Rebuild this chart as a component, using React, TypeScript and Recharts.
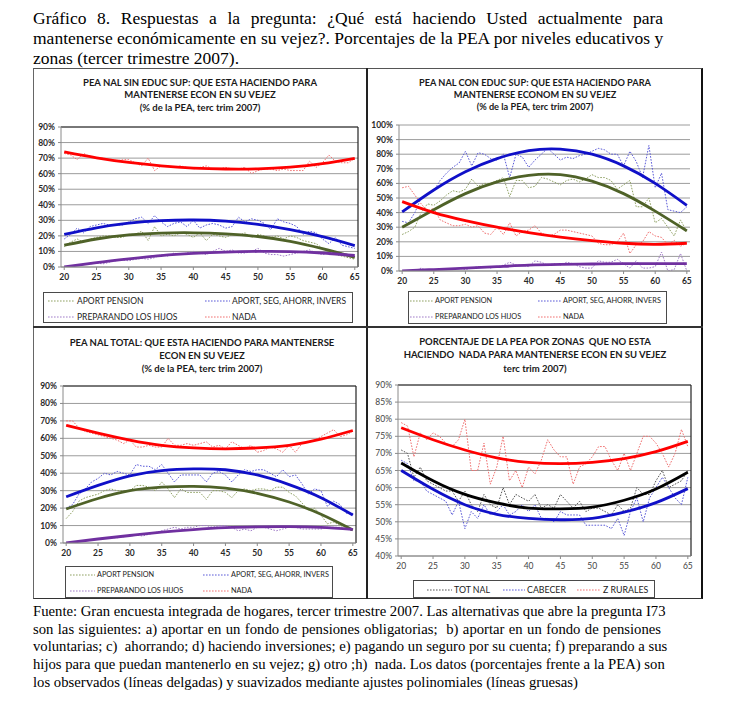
import React from 'react';
import { LineChart, Line, XAxis, YAxis, CartesianGrid, ReferenceLine } from 'recharts';

// ---------- data ----------
const AGES = [20, 21, 22, 23, 24, 25, 26, 27, 28, 29, 30, 31, 32, 33, 34, 35, 36, 37, 38, 39, 40, 41, 42, 43, 44, 45, 46, 47, 48, 49, 50, 51, 52, 53, 54, 55, 56, 57, 58, 59, 60, 61, 62, 63, 64, 65];
const FIT_AGES = [20, 25, 30, 35, 40, 45, 50, 55, 60, 65];
const X_TICKS = [20, 25, 30, 35, 40, 45, 50, 55, 60, 65];
const Y_TICKS_90 = [0, 10, 20, 30, 40, 50, 60, 70, 80, 90];
const Y_TICKS_100 = [0, 10, 20, 30, 40, 50, 60, 70, 80, 90, 100];
const Y_TICKS_ZONAS = [40, 45, 50, 55, 60, 65, 70, 75, 80, 85, 90];

// Panel 1: PEA NAL SIN EDUC SUP (observed)
const p1Pension = [13, 16, 18, 16, 18, 19, 20, 20, 19, 19, 21, 21, 23, 17, 26, 20, 21, 20, 22, 21, 19, 22, 17, 21, 20, 19, 21, 20, 22, 19, 21, 20, 19, 20, 18, 20, 19, 17, 16, 15, 12, 10, 8, 7, 6, 5];
const p1Seg = [18, 21, 25, 22, 26, 27, 28, 27, 27, 27, 29, 31, 32, 28, 33, 29, 26, 28, 29, 26, 30, 25, 27, 28, 27, 25, 26, 32, 29, 31, 30, 28, 24, 31, 29, 28, 26, 21, 23, 22, 18, 15, 19, 14, 13, 12];
const p1Hijos = [0, 0.5, 1, 1.5, 2, 2.5, 2, 3, 4, 4.5, 4, 5, 5.5, 5, 6, 8, 7, 9, 8, 9, 10, 9, 8, 10, 12, 10, 11, 9, 9, 10, 12, 9, 8, 8, 7, 8, 9, 10, 11, 9, 8, 9, 10, 9, 8, 6];
const p1Nada = [73, 72, 69, 73, 71, 70, 70, 69, 68, 69, 69, 67, 65, 70, 62, 65, 65, 64, 65, 64, 63, 64, 65, 63, 63, 64, 63, 63, 64, 60, 62, 63, 63, 62, 63, 62, 62, 62, 68, 64, 67, 72, 68, 67, 67, 70];
// Panel 1 (polynomial fits)
const p1FitPension = [14, 18, 20.6, 21.8, 22, 21.3, 19.6, 16.5, 11.8, 6.2];
const p1FitSeg = [21, 25.2, 28.2, 29.8, 30.2, 29.5, 27.4, 24, 19.5, 13.8];
const p1FitHijos = [0, 2.8, 5.2, 7.3, 8.7, 9.6, 10, 9.9, 9, 7.4];
const p1FitNada = [74, 70.2, 67.2, 65, 63.6, 63, 63.1, 64.2, 66.4, 69.8];

// Panel 2: PEA NAL CON EDUC SUP (observed)
const p2Pension = [25, 27, 30, 40, 46, 45, 48, 52, 55, 54, 56, 63, 58, 60, 60, 62, 64, 51, 62, 62, 57, 58, 64, 63, 61, 59, 62, 63, 61, 63, 66, 64, 64, 62, 56, 59, 62, 44, 44, 50, 33, 36, 30, 24, 35, 27];
const p2Seg = [34, 33, 40, 50, 52, 55, 62, 67, 71, 74, 82, 72, 81, 80, 77, 76, 80, 64, 80, 78, 71, 76, 80, 84, 80, 76, 78, 77, 79, 80, 82, 84, 83, 80, 80, 72, 82, 75, 64, 86, 57, 67, 42, 41, 40, 44];
const p2Hijos = [0, 0, 0, 2, 0, 1, 1, 1, 1, 2, 1, 2, 3, 3, 2, 3, 4, 6, 4, 4, 3, 7, 6, 4, 5, 4, 6, 5, 3, 2, 2, 7, 6, 6, 8, 5, 2, 7, 2, 2, 3, 13, 0, 1, 12, 0];
const p2Nada = [57, 58, 52, 46, 41, 43, 35, 33, 31, 31, 32, 30, 31, 26, 25, 30, 25, 33, 24, 27, 28, 31, 26, 24, 25, 28, 28, 27, 26, 25, 24, 19, 18, 18, 20, 26, 12, 18, 20, 27, 24, 23, 18, 21, 17, 19];
const p2FitPension = [30, 42, 53, 61, 65.5, 66, 61.5, 53, 41, 27.5];
const p2FitSeg = [40.5, 55.5, 68, 77, 82.5, 83.5, 80, 72, 60, 45];
const p2FitHijos = [0, 1, 2, 3, 4, 4.5, 4.8, 5, 5, 5];
const p2FitNada = [47.5, 40, 34.5, 30, 26.3, 23.2, 20.8, 19, 18.3, 19];

// Panel 3: PEA NAL TOTAL (observed)
const p3Pension = [14, 18, 24, 26, 27, 28, 30, 31, 30, 30, 30, 33, 33, 32, 30, 35, 31, 26, 31, 29, 29, 29, 25, 30, 30, 29, 26, 30, 31, 30, 31, 31, 30, 32, 32, 29, 27, 23, 19, 20, 16, 11, 12, 10, 9, 8];
const p3Seg = [20, 22, 28, 31, 35, 37, 40, 39, 41, 40, 39, 45, 44, 44, 42, 45, 40, 35, 39, 39, 39, 39, 35, 40, 41, 39, 35, 39, 42, 41, 42, 42, 40, 38, 42, 38, 39, 34, 28, 31, 30, 21, 24, 22, 17, 17];
const p3Hijos = [0, 0.5, 1, 1.5, 2, 2, 2.5, 3, 3, 3.5, 4, 4.5, 4, 5, 6, 7, 8, 9, 8, 9, 9, 10, 10, 9, 10, 10, 9, 7, 8, 7, 9, 9, 8, 7, 8, 9, 9, 8, 8, 8, 8, 9, 9, 9, 8, 7];
const p3Nada = [70, 70, 66, 64, 63, 62, 61, 60, 59, 57, 59, 55, 55, 56, 55, 55, 60, 56, 56, 57, 56, 57, 58, 55, 56, 54, 58, 56, 54, 56, 52, 53, 55, 54, 52, 56, 52, 57, 58, 59, 61, 63, 65, 61, 62, 64];
const p3FitPension = [19.5, 25.5, 30, 32, 32.5, 31.5, 28.5, 23.5, 16.5, 7.5];
const p3FitSeg = [26.5, 33, 38.5, 41.5, 42.5, 42, 39, 33.5, 26, 16];
const p3FitHijos = [0, 2.3, 4.3, 6.2, 7.7, 8.8, 9.3, 9.4, 9, 7.8];
const p3FitNada = [67.5, 63, 59, 56, 54.5, 54, 54.5, 56, 59.5, 64.5];

// Panel 4: por zonas, NADA (observed)
const p4Tot = [71, 70, 63, 66, 62, 61, 60, 59, 59, 56, 59, 55, 53, 58, 55, 54, 60, 55, 58, 57, 56, 58, 54, 55, 54, 58, 56, 54, 56, 53, 54, 54, 53, 52, 55, 53, 54, 60, 58, 58, 62, 65, 60, 61, 62, 65];
const p4Cab = [68, 67, 62, 62, 59, 58, 57, 56, 52, 56, 48, 53, 51, 55, 52, 53, 55, 52, 53, 55, 53, 55, 51, 51, 50, 53, 52, 52, 52, 49, 49, 49, 49, 48, 51, 46, 53, 57, 50, 57, 60, 63, 60, 57, 55, 63];
const p4Rural = [79, 78, 69, 76, 74, 76, 75, 73, 72, 74, 80, 65, 65, 73, 61, 66, 75, 62, 65, 60, 66, 64, 68, 74, 71, 69, 69, 61, 66, 67, 69, 72, 72, 68, 65, 70, 65, 70, 75, 75, 73, 70, 66, 70, 77, 72];
const p4FitTot = [67.2, 62, 58, 55.5, 54, 53.8, 54.3, 56.3, 59.6, 64.5];
const p4FitCab = [65, 59.5, 55, 52.2, 51, 50.6, 51, 52.8, 55.6, 59.7];
const p4FitRural = [77.5, 74, 71, 68.7, 67.4, 67, 67.4, 68.5, 70.5, 73.5];

const LEG_PENSION = 'APORT PENSION';
const LEG_SEG = 'APORT, SEG, AHORR, INVERS';
const LEG_HIJOS = 'PREPARANDO LOS HIJOS';
const LEG_NADA = 'NADA';

// ---------- styles ----------
const SANS = "Lato, 'Noto Sans', sans-serif";
const SERIF = "'Liberation Serif', 'Times New Roman', serif";
const C = {
  olive: '#4F6228', oliveThin: '#8FA163',
  blue: '#1010C8', blueThin: '#5A5AD8',
  purple: '#7030A0', purpleThin: '#A07CC8',
  red: '#FF0000', redThin: '#F07070',
  black: '#000000', blackThin: '#555555',
};

const toObs = (vals: number[]) => AGES.map((a, i) => ({ age: a, v: vals[i] }));
const toFit = (vals: number[]) => FIT_AGES.map((a, i) => ({ age: a, v: vals[i] }));

type Series = { data: { age: number; v: number }[]; color: string; thick: boolean };
type Box = { x0: number; x1: number; y0: number; y1: number };

const PAD_L = 45, PAD_T = 8, PAD_R = 10, PAD_B = 25;

function Chart({ box, domain, ticks, series, border, boldTicks }: { box: Box; domain: [number, number]; ticks: number[]; series: Series[]; border: boolean; boldTicks: boolean }) {
  const W = box.x1 - box.x0 + PAD_L + PAD_R;
  const H = box.y1 - box.y0 + PAD_T + PAD_B;
  const tickStyle = { fontSize: 8.5, fill: boldTicks ? '#2a2a2a' : '#444', fontWeight: boldTicks ? 700 : 400, fontFamily: SANS };
  return (
    <div style={{ position: 'absolute', left: box.x0 - PAD_L, top: box.y0 - PAD_T }}>
      <LineChart width={W} height={H} margin={{ top: PAD_T, right: PAD_R, bottom: 0, left: 0 }}>
        <CartesianGrid horizontal vertical={false} stroke="#9c9c9c" strokeWidth={1} />
        <XAxis type="number" dataKey="age" domain={[19.5, 65.5]} ticks={X_TICKS} allowDataOverflow height={PAD_B}
          interval={0} tick={tickStyle} tickSize={3} tickMargin={4} stroke="#8a8a8a" />
        <YAxis type="number" domain={domain} ticks={ticks} allowDataOverflow width={PAD_L} interval={0}
          tickFormatter={(v: number) => `${v}%`} tick={tickStyle} tickSize={3} tickMargin={3} stroke="#8a8a8a" />
        {border && <ReferenceLine y={domain[1]} stroke="#222" strokeWidth={1.2} />}
        {border && <ReferenceLine x={65.5} stroke="#222" strokeWidth={1.2} />}
        {series.filter(s => !s.thick).map((s, i) => (
          <Line key={'t' + i} data={s.data} dataKey="v" type="linear" stroke={s.color} strokeWidth={1}
            strokeDasharray="1.6 1.4" dot={false} activeDot={false} isAnimationActive={false} />
        ))}
        {series.filter(s => s.thick).map((s, i) => (
          <Line key={'f' + i} data={s.data} dataKey="v" type="natural" stroke={s.color} strokeWidth={2.8}
            dot={false} activeDot={false} isAnimationActive={false} />
        ))}
      </LineChart>
    </div>
  );
}

function Title({ cx, top, lh, lines, size = 9.5 }: { cx: number; top: number; lh: number; lines: string[]; size?: number }) {
  return (
    <div style={{ position: 'absolute', left: cx - 170, top, width: 340, textAlign: 'center', fontFamily: SANS, fontWeight: 700, fontSize: size, lineHeight: `${lh}px`, color: '#1a1a1a', whiteSpace: 'pre' }}>
      {lines.map((l, i) => <div key={i}>{l}</div>)}
    </div>
  );
}

type LegItem = { x0: number; x1: number; tx: number; y: number; color: string; label: string };

function LegendBox({ left, top, width, height, items, size }: { left: number; top: number; width: number; height: number; items: LegItem[]; size: number }) {
  return (
    <div style={{ position: 'absolute', left, top, width, height, border: '1px solid #4a4a4a', boxSizing: 'border-box', overflow: 'hidden', background: '#fff' }}>
      {items.map((it, i) => (
        <React.Fragment key={i}>
          <svg style={{ position: 'absolute', left: it.x0 - left - 1, top: it.y - top - 3 }} width={it.x1 - it.x0} height={6}>
            <line x1={0} y1={3} x2={it.x1 - it.x0} y2={3} stroke={it.color} strokeWidth={1} strokeDasharray="1.6 1.4" />
          </svg>
          <div style={{ position: 'absolute', left: it.tx - left - 1, top: it.y - top - 7, lineHeight: '14px', fontSize: size, fontFamily: SANS, color: '#222', whiteSpace: 'nowrap' }}>{it.label}</div>
        </React.Fragment>
      ))}
    </div>
  );
}

const HEADER = [
  'Gráfico 8. Respuestas a la pregunta: ¿Qué está haciendo Usted actualmente para',
  'mantenerse económicamente en su vejez?. Porcentajes de la PEA por niveles educativos y',
  'zonas (tercer trimestre 2007).',
];
const FOOTER = [
  'Fuente: Gran encuesta integrada de hogares, tercer trimestre 2007. Las alternativas que abre la pregunta I73',
  'son las siguientes: a) aportar en un fondo de pensiones obligatorias;\u00a0 b) aportar en un fondo de pensiones',
  'voluntarias; c)\u00a0 ahorrando; d) haciendo inversiones; e) pagando un seguro por su cuenta; f) preparando a sus',
  'hijos para que puedan mantenerlo en su vejez; g) otro ;h)\u00a0 nada. Los datos (porcentajes frente a la PEA) son',
  'los observados (líneas delgadas) y suavizados mediante ajustes polinomiales (líneas gruesas)',
];

function Para({ lines, top, size, lh, width }: { lines: string[]; top: number; size: number; lh: number; width: number }) {
  return (
    <div style={{ position: 'absolute', left: 33, top, width, fontFamily: SERIF, fontSize: size, lineHeight: `${lh}px`, color: '#000' }}>
      {lines.map((l, i) => (
        <div key={i} style={{ textAlign: 'justify', textAlignLast: i === lines.length - 1 ? 'left' : 'justify', whiteSpace: 'nowrap' }}>{l}</div>
      ))}
    </div>
  );
}

function fourSeries(pen: number[], seg: number[], hij: number[], nad: number[], fpen: number[], fseg: number[], fhij: number[], fnad: number[]): Series[] {
  return [
    { data: toObs(pen), color: C.oliveThin, thick: false },
    { data: toObs(seg), color: C.blueThin, thick: false },
    { data: toObs(hij), color: C.purpleThin, thick: false },
    { data: toObs(nad), color: C.redThin, thick: false },
    { data: toFit(fpen), color: C.olive, thick: true },
    { data: toFit(fseg), color: C.blue, thick: true },
    { data: toFit(fhij), color: C.purple, thick: true },
    { data: toFit(fnad), color: C.red, thick: true },
  ];
}

export default function App() {
  const s1 = fourSeries(p1Pension, p1Seg, p1Hijos, p1Nada, p1FitPension, p1FitSeg, p1FitHijos, p1FitNada);
  const s2 = fourSeries(p2Pension, p2Seg, p2Hijos, p2Nada, p2FitPension, p2FitSeg, p2FitHijos, p2FitNada);
  const s3 = fourSeries(p3Pension, p3Seg, p3Hijos, p3Nada, p3FitPension, p3FitSeg, p3FitHijos, p3FitNada);
  const s4: Series[] = [
    { data: toObs(p4Tot), color: C.blackThin, thick: false },
    { data: toObs(p4Cab), color: C.blueThin, thick: false },
    { data: toObs(p4Rural), color: C.redThin, thick: false },
    { data: toFit(p4FitTot), color: C.black, thick: true },
    { data: toFit(p4FitCab), color: C.blue, thick: true },
    { data: toFit(p4FitRural), color: C.red, thick: true },
  ];

  return (
    <div style={{ position: 'absolute', left: 0, top: 0, width: 735, height: 704, background: '#fff', overflow: 'hidden' }}>
      <Para lines={HEADER} top={7.6} size={17.5} lh={20} width={630} />

      {/* frames */}
      <div style={{ position: 'absolute', left: 33, top: 68, width: 670, height: 531, borderLeft: '1px solid #666', borderTop: '1px solid #555', borderRight: '2px solid #111', borderBottom: '1px solid #333', boxSizing: 'border-box' }} />
      <div style={{ position: 'absolute', left: 366, top: 68, width: 2, height: 531, background: '#222' }} />
      <div style={{ position: 'absolute', left: 33, top: 326, width: 670, height: 2, background: '#333' }} />

      {/* Panel 1 */}
      <Title cx={200} top={76.5} lh={12.5} lines={['PEA NAL SIN EDUC SUP: QUE ESTA HACIENDO PARA', 'MANTENERSE ECON EN SU VEJEZ', '(% de la PEA, terc trim 2007)']} />
      <Chart box={{ x0: 61, x1: 358, y0: 127, y1: 267 }} domain={[0, 90]} ticks={Y_TICKS_90} series={s1} border boldTicks />
      <LegendBox left={43} top={292} width={310} height={31} size={8.5} items={[
        { x0: 48, x1: 75, tx: 77, y: 300, color: C.oliveThin, label: LEG_PENSION },
        { x0: 205, x1: 230, tx: 232, y: 300, color: C.blueThin, label: LEG_SEG },
        { x0: 48, x1: 75, tx: 77, y: 316, color: C.purpleThin, label: LEG_HIJOS },
        { x0: 205, x1: 230, tx: 232, y: 316, color: C.redThin, label: LEG_NADA },
      ]} />

      {/* Panel 2 */}
      <Title cx={535} top={77} lh={12} size={9.2} lines={['PEA NAL CON EDUC SUP: QUE ESTA HACIENDO PARA', 'MANTENERSE ECONOM EN SU VEJEZ', '(% de la PEA, terc trim 2007)']} />
      <Chart box={{ x0: 399, x1: 690, y0: 125, y1: 271 }} domain={[0, 100]} ticks={Y_TICKS_100} series={s2} border={false} boldTicks />
      <LegendBox left={408} top={291} width={259} height={33} size={7.3} items={[
        { x0: 410, x1: 433, tx: 435, y: 300, color: C.oliveThin, label: LEG_PENSION },
        { x0: 538, x1: 562, tx: 563, y: 300, color: C.blueThin, label: LEG_SEG },
        { x0: 410, x1: 433, tx: 435, y: 316, color: C.purpleThin, label: LEG_HIJOS },
        { x0: 538, x1: 562, tx: 563, y: 316, color: C.redThin, label: LEG_NADA },
      ]} />

      {/* Panel 3 */}
      <Title cx={202} top={335.5} lh={13} lines={['PEA NAL TOTAL: QUE ESTA HACIENDO PARA MANTENERSE', 'ECON EN SU VEJEZ', '(% de la PEA, terc trim 2007)']} />
      <Chart box={{ x0: 63, x1: 356, y0: 386, y1: 543 }} domain={[0, 90]} ticks={Y_TICKS_90} series={s3} border boldTicks />
      <LegendBox left={65} top={566} width={268} height={32} size={7.3} items={[
        { x0: 70, x1: 95, tx: 97, y: 574, color: C.oliveThin, label: LEG_PENSION },
        { x0: 203, x1: 230, tx: 231, y: 574, color: C.blueThin, label: LEG_SEG },
        { x0: 70, x1: 95, tx: 97, y: 590, color: C.purpleThin, label: LEG_HIJOS },
        { x0: 203, x1: 230, tx: 231, y: 590, color: C.redThin, label: LEG_NADA },
      ]} />

      {/* Panel 4 */}
      <Title cx={535} top={334.5} lh={13.5} lines={['PORCENTAJE DE LA PEA POR ZONAS  QUE NO ESTA', 'HACIENDO  NADA PARA MANTENERSE ECON EN SU VEJEZ', 'terc trim 2007)']} />
      <Chart box={{ x0: 398, x1: 691, y0: 385, y1: 556 }} domain={[40, 90]} ticks={Y_TICKS_ZONAS} series={s4} border boldTicks={false} />
      <LegendBox left={413} top={580} width={242} height={18} size={8.8} items={[
        { x0: 427, x1: 452, tx: 454, y: 589, color: C.blackThin, label: 'TOT NAL' },
        { x0: 503, x1: 525, tx: 527, y: 589, color: C.blueThin, label: 'CABECER' },
        { x0: 577, x1: 601, tx: 603, y: 589, color: C.redThin, label: 'Z RURALES' },
      ]} />

      <Para lines={FOOTER} top={602.8} size={14.7} lh={17.85} width={628} />
    </div>
  );
}
